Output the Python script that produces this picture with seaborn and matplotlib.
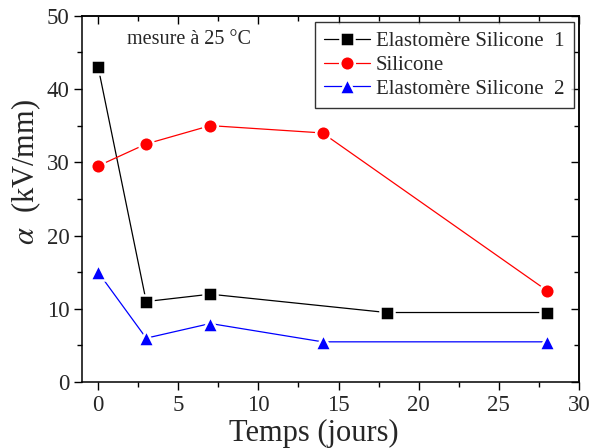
import matplotlib
matplotlib.use("Agg")
import matplotlib.pyplot as plt
from matplotlib.ticker import MultipleLocator
import seaborn as sns
import pandas as pd

# Measured breakdown field over time, three materials
jours_es1 = [0, 3, 7, 18, 28]
alpha_es1 = [43, 11, 12, 9.5, 9.5]
jours_sil = [0, 3, 7, 14, 28]
alpha_sil = [29.5, 32.5, 35, 34, 12.5]
jours_es2 = [0, 3, 7, 14, 28]
alpha_es2 = [15, 6, 8, 5.5, 5.5]

series = [
    ("Elastomère Silicone  1", jours_es1, alpha_es1, "black", "s", 9.5),
    ("Silicone", jours_sil, alpha_sil, "red", "o", 10.5),
    ("Elastomère Silicone  2", jours_es2, alpha_es2, "blue", "^", 11),
]

sns.set_theme(style="white")
plt.rcParams["font.family"] = ["Liberation Serif", "DejaVu Serif"]
plt.rcParams["mathtext.fontset"] = "stix"

fig = plt.figure(figsize=(5.95, 4.48), dpi=100)
ax = fig.add_axes([0.138, 0.147, 0.835, 0.818])

for label, x, y, color, marker, ms in series:
    df = pd.DataFrame({"x": x, "y": y})
    sns.lineplot(data=df, x="x", y="y", ax=ax, color=color, marker=marker,
                 markersize=ms, markeredgecolor="white", markeredgewidth=1.8,
                 linewidth=0.9, label=label, sort=False)

ax.set_xlim(-1, 30)
ax.set_ylim(0, 50)
ax.xaxis.set_major_locator(MultipleLocator(5))
ax.xaxis.set_minor_locator(MultipleLocator(2.5))
ax.yaxis.set_major_locator(MultipleLocator(10))
ax.yaxis.set_minor_locator(MultipleLocator(5))
ax.tick_params(which="both", direction="out", color="black", labelsize=16.5,
               top=False, right=False, bottom=True, left=True, pad=3)
ax.tick_params(which="major", length=6, width=1)
ax.tick_params(which="minor", length=3.5, width=1)

for s in ax.spines.values():
    s.set_color("black")
    s.set_linewidth(1.1)

# inward ticks on the top and right edges
top = ax.secondary_xaxis("top")
top.xaxis.set_major_locator(MultipleLocator(5))
top.xaxis.set_minor_locator(MultipleLocator(2.5))
top.tick_params(which="both", direction="in", labeltop=False, color="black")
top.tick_params(which="major", length=6, width=1)
top.tick_params(which="minor", length=3.5, width=1)
right = ax.secondary_yaxis("right")
right.yaxis.set_major_locator(MultipleLocator(10))
right.yaxis.set_minor_locator(MultipleLocator(5))
right.tick_params(which="both", direction="in", labelright=False, color="black")
right.tick_params(which="major", length=6, width=1)
right.tick_params(which="minor", length=3.5, width=1)

ax.set_xlabel("Temps (jours)", fontsize=22)
ax.xaxis.set_label_coords(0.466, -0.139, transform=ax.transAxes)
ax.xaxis.label.set_va("center")
ax.set_ylabel(r"$\alpha$  (kV/mm)", fontsize=22)
ax.yaxis.set_label_coords(-0.113, 0.573, transform=ax.transAxes)
ax.yaxis.label.set_va("center")

ax.text(0.09, 0.96, "mesure à 25 °C", transform=ax.transAxes,
        fontsize=14.5, ha="left", va="top")

leg = ax.legend(loc="upper right", bbox_to_anchor=(0.99, 0.982), fontsize=15,
                frameon=True, fancybox=False, edgecolor="black",
                handlelength=2.2, handletextpad=0.3, borderpad=0.45,
                labelspacing=0.2, borderaxespad=0.0)
leg.get_frame().set_linewidth(1.0)

fig.savefig("out.png", dpi=100)
